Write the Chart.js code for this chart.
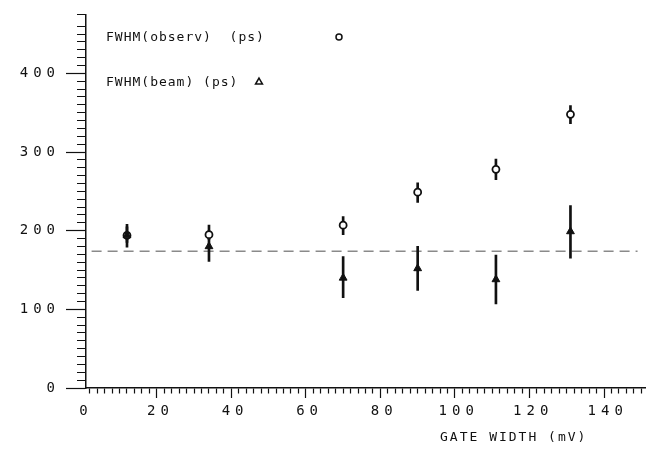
<!DOCTYPE html>
<html>
<head>
<meta charset="utf-8">
<script src="https://cdn.jsdelivr.net/npm/chart.js@4.4.0/dist/chart.umd.min.js"></script>
<style>
    html, body { margin: 0; padding: 0; background: #fff; }
    #wrap { width: 654px; height: 460px; }
</style>
</head>
<body>
<div id="wrap"><canvas id="fwhmChart"></canvas></div>
<script>
// gate width (mV) and measured FWHM values (ps)
const gateWidth = [11, 33, 69, 89, 110, 130];
const fwhmObserv = [194, 195, 207, 249, 278, 348];
const observLow = [185, 189, 195, 236, 265, 336];
const observHigh = [208, 207, 218, 261, 291, 359];
const fwhmBeam = [194, 180, 140, 152, 138, 199];
const beamLow = [179, 161, 115, 124, 107, 165];
const beamHigh = [205, 199, 167, 180, 169, 232];
const beamRef = 174;
const refRange = [1.5, 148];
const xTickLabels = [0, 20, 40, 60, 80, 100, 120, 140];
const yTickLabels = [0, 100, 200, 300, 400];

const ink = '#111';
const tickFont = { family: 'DejaVu Sans Mono', size: 14 };

function errorBars(lo, hi) {
    return gateWidth.map((x, i) => ({ x: x, y: [lo[i], hi[i]] }));
}

function points(vals) {
    return gateWidth.map((x, i) => ({ x: x, y: vals[i] }));
}

function isMajor(c, list) {
    return c.tick ? list.includes(Math.round(c.tick.value)) : true;
}

// letter spaced plotter-like text, legend and axis title drawn on top
const plotterText = {
    id: 'plotterText',
    beforeDraw(chart) {
        chart.ctx.letterSpacing = '5px';
    },
    afterDraw(chart) {
        const ctx = chart.ctx;
        ctx.save();
        ctx.letterSpacing = '1px';
        ctx.fillStyle = ink;
        ctx.font = '13px "DejaVu Sans Mono"';
        ctx.textBaseline = 'middle';
        ctx.textAlign = 'left';
        ctx.fillText('FWHM(observ)  (ps)', 106, 38);
        ctx.fillText('FWHM(beam) (ps)', 106, 83);
        ctx.letterSpacing = '2px';
        ctx.fillText('GATE WIDTH (mV)', 440, 438);

        ctx.letterSpacing = '0px';
        ctx.strokeStyle = ink;
        ctx.lineWidth = 1.5;
        ctx.fillStyle = '#fff';
        Chart.helpers.drawPoint(ctx, { pointStyle: 'circle', radius: 3, borderWidth: 1.5 }, 339, 37);
        Chart.helpers.drawPoint(ctx, { pointStyle: 'triangle', radius: 4, borderWidth: 1.5 }, 259, 82);
        ctx.restore();
    }
};

const ctx = document.getElementById('fwhmChart').getContext('2d');

new Chart(ctx, {
    type: 'scatter',
    data: {
        datasets: [
            {
                type: 'scatter',
                label: 'FWHM(beam) (ps)',
                data: points(fwhmBeam),
                pointStyle: 'triangle',
                pointRadius: 4.5,
                pointBackgroundColor: ink,
                pointBorderColor: ink,
                pointBorderWidth: 1,
                order: 0
            },
            {
                type: 'scatter',
                label: 'FWHM(observ) (ps)',
                data: points(fwhmObserv),
                pointStyle: 'circle',
                pointRadius: 3.5,
                pointBackgroundColor: '#fff',
                pointBorderColor: ink,
                pointBorderWidth: 1.8,
                order: 1
            },
            {
                type: 'bar',
                label: 'beam error',
                data: errorBars(beamLow, beamHigh),
                backgroundColor: ink,
                borderWidth: 0,
                barThickness: 2,
                grouped: false,
                order: 2
            },
            {
                type: 'bar',
                label: 'observ error',
                data: errorBars(observLow, observHigh),
                backgroundColor: ink,
                borderWidth: 0,
                barThickness: 2,
                grouped: false,
                order: 3
            },
            {
                type: 'line',
                label: 'reference',
                data: [{ x: refRange[0], y: beamRef }, { x: refRange[1], y: beamRef }],
                borderColor: '#8a8a8a',
                borderWidth: 1.5,
                borderDash: [10, 6],
                pointRadius: 0,
                fill: false,
                order: 4
            }
        ]
    },
    options: {
        responsive: true,
        maintainAspectRatio: false,
        animation: false,
        layout: { padding: { top: 9, right: 9, left: 0, bottom: 0 } },
        plugins: {
            legend: { display: false },
            tooltip: { enabled: false }
        },
        scales: {
            x: {
                type: 'linear',
                position: 'bottom',
                min: 0,
                max: 150,
                offset: false,
                afterFit: (scale) => { scale.height = 72; },
                border: { color: ink, width: 1.5 },
                grid: {
                    drawOnChartArea: false,
                    tickLength: 10,
                    tickColor: ink,
                    tickWidth: 1.2,
                    tickBorderDash: (c) => isMajor(c, xTickLabels) ? [] : [5, 20]
                },
                ticks: {
                    stepSize: 2,
                    autoSkip: false,
                    maxRotation: 0,
                    padding: 5,
                    color: ink,
                    font: tickFont,
                    callback: (v) => xTickLabels.includes(Math.round(v)) ? String(Math.round(v)) : ''
                }
            },
            y: {
                type: 'linear',
                position: 'left',
                min: 0,
                max: 475,
                afterFit: (scale) => { scale.width = 86; },
                border: { color: ink, width: 1.5 },
                grid: {
                    drawOnChartArea: false,
                    tickLength: 20,
                    tickColor: ink,
                    tickWidth: 1.2,
                    tickBorderDash: (c) => isMajor(c, yTickLabels) ? [] : [0, 11, 20]
                },
                ticks: {
                    stepSize: 10,
                    autoSkip: false,
                    padding: 6,
                    color: ink,
                    font: tickFont,
                    callback: (v) => yTickLabels.includes(Math.round(v)) ? String(Math.round(v)) : ''
                }
            }
        }
    },
    plugins: [plotterText]
});
</script>
</body>
</html>
